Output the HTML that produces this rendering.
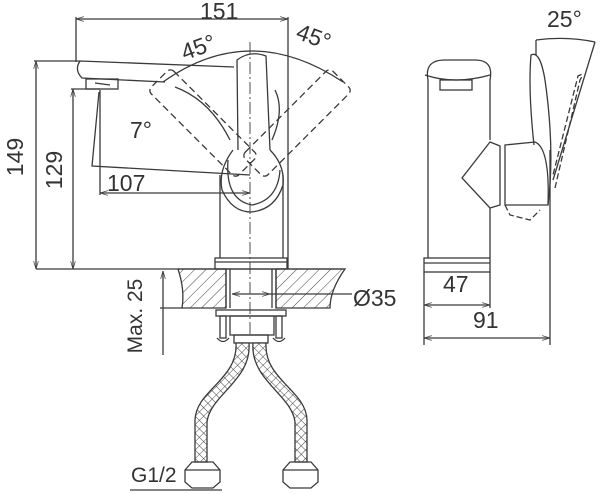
<!DOCTYPE html>
<html><head><style>
html,body{margin:0;padding:0;background:#fff;}
svg{display:block;}
text{font-family:"Liberation Sans",sans-serif;fill:#333;}
</style></head><body>
<svg width="600" height="494" viewBox="0 0 600 494" xmlns="http://www.w3.org/2000/svg">
<defs>
<pattern id="h" width="8" height="8" patternUnits="userSpaceOnUse" patternTransform="rotate(45)">
<line x1="0" y1="0" x2="0" y2="8" stroke="#444" stroke-width="1"/></pattern>
<pattern id="mesh" width="6" height="6" patternUnits="userSpaceOnUse" patternTransform="rotate(45)">
<rect width="6" height="6" fill="#fff"/><path d="M0 0H6M0 0V6" stroke="#444" stroke-width="1"/></pattern>
<marker id="a" viewBox="0 0 10 10" refX="10" refY="5" markerWidth="6" markerHeight="6" orient="auto-start-reverse"><path d="M0 2L10 5L0 8" fill="none" stroke="#444"/></marker>
</defs>
<g stroke="#3a3a3a" stroke-width="1.3" fill="none">
<line x1="76" y1="19" x2="288" y2="19" marker-start="url(#a)" marker-end="url(#a)"/>
<line x1="76" y1="17" x2="76" y2="62"/>
<line x1="288" y1="17" x2="288" y2="269"/>
<line x1="36" y1="61" x2="36" y2="269" marker-start="url(#a)" marker-end="url(#a)"/>
<line x1="34" y1="61" x2="80" y2="61"/>
<line x1="73" y1="89" x2="73" y2="269" marker-start="url(#a)" marker-end="url(#a)"/>
<line x1="71" y1="89" x2="100" y2="89"/>
<path d="M80 61 L234 67 M80 61 Q74 70 82 78 L165 82"/>
<rect x="86" y="79" width="32" height="10"/>
<line x1="95" y1="83" x2="110" y2="85"/>
<path d="M99 92 L92 166 L250 175"/>
<line x1="100" y1="90" x2="100" y2="195"/>
<line x1="100" y1="193" x2="250" y2="193" marker-start="url(#a)" marker-end="url(#a)"/>
<path d="M220 175 V258 M283 175 V258"/>
<rect x="215" y="258" width="72" height="11"/>
<line x1="215" y1="262" x2="287" y2="262"/>
<path d="M238 150 L237 60 Q250 50 266 56 L270 150"/>
<path d="M233 150 Q218 170 222 190 Q232 212 251 212 Q275 210 283 185 Q285 165 270 150"/>
<path d="M228 160 Q225 200 252 205 Q278 200 280 170"/>
<path d="M163 82 Q250 20 343 82"/>
<g stroke-dasharray="7,4">
<rect x="-62" y="-16" width="124" height="32" rx="5" transform="translate(203,123) rotate(45)"/>
<rect x="-62" y="-16" width="124" height="32" rx="5" transform="translate(297,123) rotate(-45)"/>
</g>
<path d="M230 140 Q210 100 175 87 M272 140 Q285 110 275 90"/>
<line x1="250" y1="42" x2="250" y2="335" stroke-dasharray="12,3,2,3" stroke-width="0.9"/>
<line x1="36" y1="269" x2="345" y2="269"/>
<path d="M178 269 Q185 290 182 308 H226 V269 Z" fill="url(#h)"/>
<path d="M276 269 H345 Q330 290 330 308 H276 Z" fill="url(#h)"/>
<line x1="160" y1="308" x2="182" y2="308"/>
<line x1="226" y1="269" x2="226" y2="308"/><line x1="276" y1="269" x2="276" y2="308"/>
<line x1="230" y1="269" x2="230" y2="308"/><line x1="272" y1="269" x2="272" y2="308"/>
<line x1="232" y1="294" x2="270" y2="294" marker-start="url(#a)" marker-end="url(#a)"/>
<line x1="270" y1="294" x2="352" y2="294"/>
<line x1="163" y1="271" x2="163" y2="355" marker-start="url(#a)"/>
<rect x="216" y="310" width="70" height="6"/>
<rect x="220" y="316" width="6" height="22"/><rect x="276" y="316" width="6" height="22"/>
<path d="M217 338 Q223 345 229 338 M273 338 Q279 345 285 338"/>
<rect x="230" y="316" width="44" height="19"/>
<rect x="234" y="335" width="34" height="8"/>
<path d="M236 343 C238 380 196 390 195 420 V462 H207 V422 C210 395 252 380 249 343 Z" fill="url(#mesh)"/>
<path d="M253 343 C250 380 292 395 295 422 V462 H307 V420 C306 390 264 380 266 343 Z" fill="url(#mesh)"/>
<path d="M185 470 L192 462 H213 L220 470 V482 L213 488 H192 L185 482 Z"/>
<line x1="185" y1="470" x2="220" y2="470"/>
<path d="M283 470 L290 462 H311 L318 470 V482 L311 488 H290 L283 482 Z"/>
<line x1="283" y1="470" x2="318" y2="470"/>
<line x1="130" y1="490" x2="222" y2="490"/>
<path d="M428 258 V80 Q424 60 445 60 H475 Q494 60 490 80 V140 M490 208 V258"/>
<rect x="440" y="80" width="32" height="10"/>
<path d="M425 75 Q455 85 490 75" />
<rect x="424" y="258" width="66" height="14"/>
<line x1="424" y1="263" x2="490" y2="263"/>
<line x1="424" y1="272" x2="424" y2="345"/><line x1="490" y1="272" x2="490" y2="308"/>
<line x1="424" y1="305" x2="490" y2="305" marker-start="url(#a)" marker-end="url(#a)"/>
<line x1="424" y1="338" x2="550" y2="338" marker-start="url(#a)" marker-end="url(#a)"/>
<line x1="550" y1="150" x2="550" y2="345"/>
<path d="M490 142 L500 146 L500 205 L490 208 L462 178 Z"/>
<path d="M505 145 L535 142 Q550 148 548 205 L505 205 Z"/>
<path d="M534 145 Q528 90 531 55 Q540 50 545 80 Q555 150 548 205"/>
<path d="M536 40 Q566 36 595 42"/>
<line x1="536" y1="40" x2="536" y2="55"/>
<line x1="595" y1="42" x2="553" y2="180"/>
<path d="M555 188 L580 80 Q585 72 578 76 L553 175" stroke-dasharray="6,3"/>
<path d="M505 205 L510 215 L530 220 L540 210" stroke-dasharray="6,3"/>
</g>
<g font-size="23">
<text x="200" y="19">151</text>
<text x="180" y="56" transform="rotate(-20 195 45)">45°</text>
<text x="296" y="45" transform="rotate(20 315 38)">45°</text>
<text x="130" y="138">7°</text>
<text x="107" y="191">107</text>
<text x="23" y="173" text-anchor="middle" transform="rotate(-90 15 165)">149</text>
<text x="62" y="186" text-anchor="middle" transform="rotate(-90 54 178)">129</text>
<text x="353" y="306">Ø35</text>
<text x="443" y="292">47</text>
<text x="473" y="328">91</text>
<text x="547" y="27">25°</text>
</g>
<text x="135" y="323" text-anchor="middle" font-size="21" font-family="Liberation Mono" transform="rotate(-90 135 316)">Max. 25</text>
<text x="131" y="482" font-size="21" font-family="Liberation Mono">G1/2</text>
</svg>
</body></html>
